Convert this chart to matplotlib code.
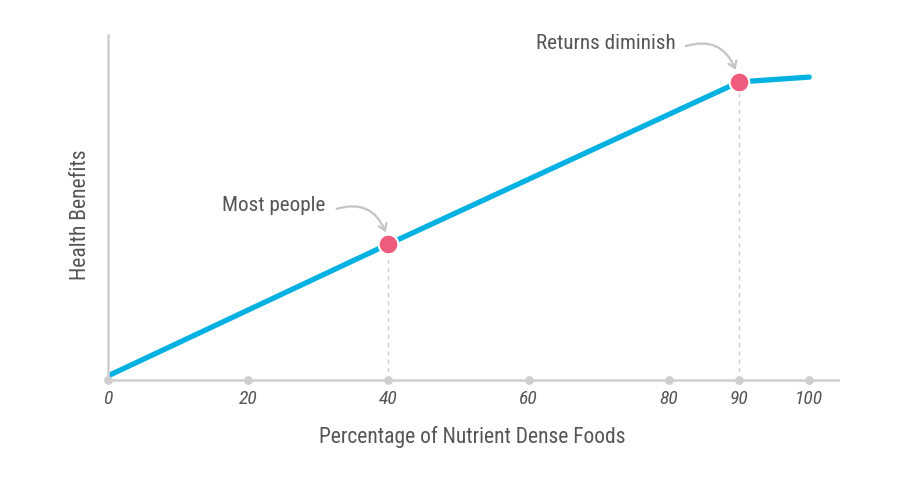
import matplotlib
matplotlib.use("Agg")
import matplotlib.pyplot as plt
from matplotlib import font_manager

names = {f.name for f in font_manager.fontManager.ttflist}
fam = [f for f in ["Liberation Sans Narrow", "Roboto Condensed", "Roboto", "DejaVu Sans"] if f in names]
plt.rcParams['font.family'] = fam

x_vals = [0, 40, 90, 100]
y_vals = [1.2, 39.4, 86.4, 87.8]
tick_vals = [0, 20, 40, 60, 80, 90, 100]
tick_labels = ["0", "20", "40", "60", "80", "90", "100"]
highlight_x = [40, 90]
highlight_y = [39.4, 86.4]
annot_texts = ["Most people", "Returns diminish"]

fig = plt.figure(figsize=(9, 4.8), dpi=100)
ax = fig.add_axes([108/900, 100/480, 730/900, 345/480])
ax.set_xlim(0, 104.1)
ax.set_ylim(0, 100)

for s in ["top", "right"]:
    ax.spines[s].set_visible(False)
for s in ["left", "bottom"]:
    ax.spines[s].set_color("#cfcfcf")
    ax.spines[s].set_linewidth(1.8)

ax.set_yticks([])
ax.set_xticks(tick_vals)
ax.set_xticklabels(tick_labels, fontstyle="italic", fontsize=14, color="#555555")
ax.tick_params(axis="x", length=0, pad=7)

# tick dots
ax.scatter(tick_vals, [0]*len(tick_vals), s=28, color="#cfcfcf", zorder=3, clip_on=False)

# dashed guides
for hx, hy in zip(highlight_x, highlight_y):
    ax.plot([hx, hx], [0, hy], ls=(0, (3, 3)), color="#cccccc", lw=1, zorder=1)

ax.plot(x_vals, y_vals, color="#00b1e1", lw=3.8, solid_capstyle="round", zorder=2)
ax.scatter(highlight_x, highlight_y, s=200, color="#ef5b7d", edgecolor="white", linewidth=1.5, zorder=4)

# annotations
arrow_kw = dict(arrowstyle="->,head_length=0.45,head_width=0.3", color="#c4c4c4", lw=1.6,
                connectionstyle="arc3,rad=-0.45", shrinkA=0, shrinkB=0)
ax.annotate(annot_texts[0], xy=(39.6, 42.8), xytext=(31.0, 50.5),
            ha="right", va="center", fontsize=15.2, color="#555555",
            arrowprops=None)
ax.annotate("", xy=(39.6, 42.8), xytext=(32.6, 49.6), arrowprops=arrow_kw)
ax.annotate(annot_texts[1], xy=(89.5, 89.5), xytext=(81.0, 97.5),
            ha="right", va="center", fontsize=15.2, color="#555555")
ax.annotate("", xy=(89.5, 89.9), xytext=(82.4, 96.8), arrowprops=arrow_kw)

fig.text(472/900, 1 - 437/480, "Percentage of Nutrient Dense Foods", ha="center", va="center",
         fontsize=15.5, color="#555555")
fig.text(80/900, 1 - 215/480, "Health Benefits", ha="center", va="center", rotation=90,
         fontsize=15.5, color="#555555")

fig.savefig("out.png", dpi=100)
